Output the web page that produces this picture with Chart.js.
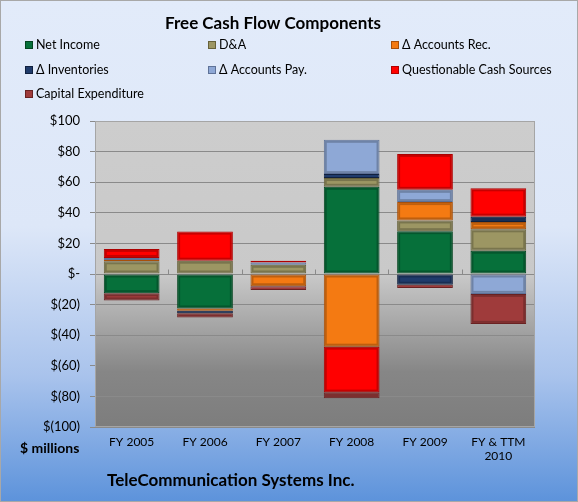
<!DOCTYPE html>
<html>
<head>
<meta charset="utf-8">
<script src="https://cdn.jsdelivr.net/npm/chart.js@4"></script>
<style>
  html, body { margin: 0; padding: 0; }
  #wrap {
    position: relative; width: 578px; height: 502px; box-sizing: border-box;
    border: 1px solid #a8a8a8;
    background: linear-gradient(to bottom, #e2ebfa 0%, #dde7f8 45%, #a9c3ec 75%, #5d93db 100%);
  }
  #chart { position: absolute; left: -1px; top: -1px; }
</style>
</head>
<body>
<div id="wrap"><canvas id="chart" width="578" height="502"></canvas></div>
<script>
// Free Cash Flow Components - TeleCommunication Systems Inc. ($ millions)
const categories = ['FY 2005', 'FY 2006', 'FY 2007', 'FY 2008', 'FY 2009', ['FY & TTM', '2010']];

const netIncome    = [-12.5, -22.5, null, 57, 28, 15.2];
const depAmort     = [8.3, 8.7, 6, 5.7, 7, 14];
const accountsRec  = [0.9, -1.5, -8, -47.5, 12, 4.8];
const inventories  = [null, -1.7, null, 2.6, -7, 3.5];
const accountsPay  = [1.3, null, 1.5, 22.4, 8, -13];
const questionable = [5.9, 19, 1.1, -30, 23.5, 18.5];
const capex        = [-4.8, -2.7, -2.4, -3.7, -2.2, -19.6];

const yTicks = [-100, -80, -60, -40, -20, 0, 20, 40, 60, 80, 100];

const seriesNames = ['Net Income', 'D&A', 'Δ Accounts Rec.', 'Δ Inventories',
                     'Δ Accounts Pay.', 'Questionable Cash Sources', 'Capital Expenditure'];
const seriesData = [netIncome, depAmort, accountsRec, inventories, accountsPay, questionable, capex];
const fills   = ['#06703a', '#9c9663', '#f47a12', '#1f3b6b', '#8ea8d6', '#ff0000', '#9f3b3b'];
const borders = ['#03451f', '#66613a', '#a8500a', '#10203e', '#5e7298', '#b00000', '#6a2222'];

const FONT = 'Lato, "Open Sans", sans-serif';

function money(v) {
    if (v === 0) return '$-';
    if (v < 0) return '$(' + (-v) + ')';
    return '$' + v;
}

// plot background + frame
const plotBg = {
    id: 'plotBg',
    beforeDraw(chart) {
        const { ctx, chartArea: a } = chart;
        const g = ctx.createLinearGradient(0, a.top, 0, a.bottom);
        g.addColorStop(0, '#cdcdcd');
        g.addColorStop(0.5, '#c9c9c9');
        g.addColorStop(0.82, '#868686');
        g.addColorStop(1, '#7d7d7d');
        ctx.save();
        ctx.fillStyle = g;
        ctx.fillRect(a.left, a.top, a.right - a.left, a.bottom - a.top);
        ctx.restore();
    },
    afterDraw(chart) {
        const { ctx, chartArea: a } = chart;
        ctx.save();
        ctx.strokeStyle = '#a5a5a5';
        ctx.lineWidth = 1;
        ctx.strokeRect(a.left + 0.5, a.top + 0.5, a.right - a.left - 1, a.bottom - a.top - 1);
        // category tick marks on the zero line
        const y0 = Math.round(chart.scales.y.getPixelForValue(0)) + 0.5;
        const step = (a.right - a.left) / categories.length;
        ctx.strokeStyle = '#8a8a8a';
        ctx.beginPath();
        for (let k = 1; k < categories.length; k++) {
            const x = Math.round(a.left + k * step) + 0.5;
            ctx.moveTo(x, y0);
            ctx.lineTo(x, y0 - 5);
        }
        ctx.stroke();
        ctx.restore();
    }
};

// soft bevel on each bar segment
const bevel = {
    id: 'bevel',
    afterDatasetsDraw(chart) {
        const ctx = chart.ctx;
        ctx.save();
        chart.data.datasets.forEach((ds, i) => {
            chart.getDatasetMeta(i).data.forEach((bar, j) => {
                if (ds.data[j] == null) return;
                const p = bar.getProps(['x', 'y', 'base', 'width'], true);
                const l = p.x - p.width / 2, r = p.x + p.width / 2;
                const t = Math.min(p.y, p.base), b = Math.max(p.y, p.base);
                if (b - t < 4) return;
                ctx.strokeStyle = 'rgba(0,0,0,0.22)';
                ctx.lineWidth = 2;
                ctx.strokeRect(l + 2, t + 2, r - l - 4, b - t - 4);
            });
        });
        ctx.restore();
    }
};

// title, grid legend, axis caption and footer
const texts = {
    id: 'texts',
    afterDraw(chart) {
        const ctx = chart.ctx;
        ctx.save();
        ctx.fillStyle = '#000';
        ctx.textBaseline = 'middle';
        ctx.font = 'bold 17px ' + FONT;
        ctx.textAlign = 'center';
        ctx.fillText('Free Cash Flow Components', 273, 24);

        const colX = [25, 208, 391];
        const rowY = [45, 70, 94];
        ctx.font = '12.5px ' + FONT;
        ctx.textAlign = 'left';
        seriesNames.forEach((name, i) => {
            const x = colX[i % 3], y = rowY[Math.floor(i / 3)];
            ctx.fillStyle = fills[i];
            ctx.fillRect(x, y - 4, 8, 8);
            ctx.strokeStyle = borders[i];
            ctx.lineWidth = 1;
            ctx.strokeRect(x + 0.5, y - 3.5, 7, 7);
            ctx.fillStyle = '#000';
            ctx.fillText(name, x + 11, y);
        });

        ctx.font = 'bold 14px ' + FONT;
        ctx.fillText('$ millions', 20, 448);
        ctx.font = 'bold 17px ' + FONT;
        ctx.fillText('TeleCommunication Systems Inc.', 107, 481);
        ctx.restore();
    }
};

const datasets = seriesNames.map((name, i) => ({
    label: name,
    data: seriesData[i],
    backgroundColor: fills[i],
    borderColor: borders[i],
    borderWidth: 1,
    borderSkipped: false,
    barPercentage: 0.76,
    categoryPercentage: 1
}));

new Chart(document.getElementById('chart'), {
    type: 'bar',
    data: { labels: categories, datasets: datasets },
    options: {
        responsive: false,
        animation: false,
        layout: { padding: { top: 121, right: 43, left: 0, bottom: 0 } },
        plugins: {
            legend: { display: false },
            title: { display: false },
            tooltip: { enabled: false }
        },
        scales: {
            x: {
                stacked: true,
                grid: { display: false },
                border: { display: false },
                ticks: {
                    color: '#000',
                    font: { family: FONT, size: 12 },
                    padding: 0,
                    maxRotation: 0,
                    autoSkip: false
                },
                afterFit(scale) { scale.height = 75; }
            },
            y: {
                stacked: true,
                min: -100,
                max: 100,
                afterBuildTicks(scale) { scale.ticks = yTicks.map(v => ({ value: v })); },
                grid: {
                    color: '#8a8a8a',
                    tickColor: '#8a8a8a',
                    tickLength: 5,
                    drawTicks: true
                },
                border: { display: false },
                ticks: {
                    color: '#000',
                    font: { family: FONT, size: 13 },
                    padding: 10,
                    callback: v => money(v)
                },
                afterFit(scale) { scale.width = 95; }
            }
        }
    },
    plugins: [plotBg, bevel, texts]
});
</script>
</body>
</html>
